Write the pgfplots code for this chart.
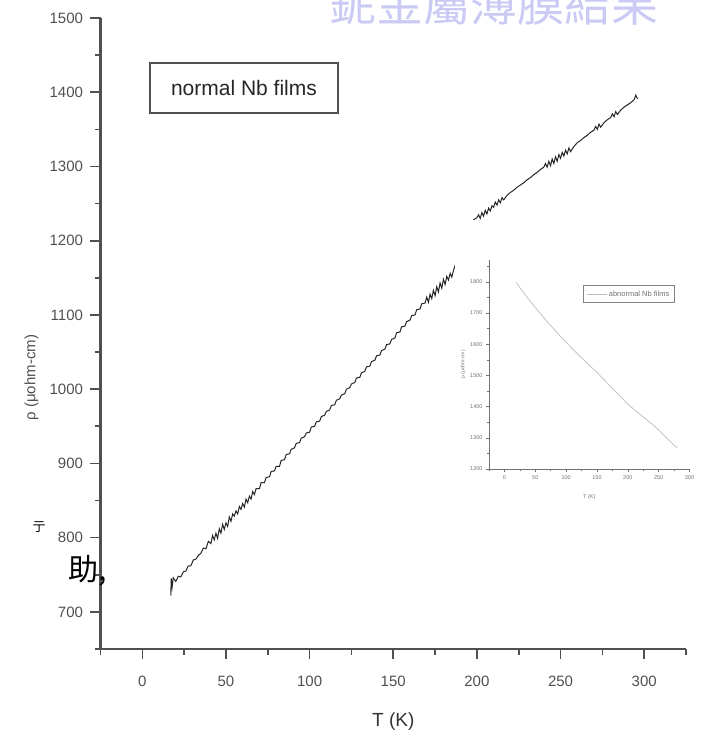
\documentclass[border=0pt]{standalone}
\usepackage{fontspec}
\setmainfont{Liberation Sans}
\newfontfamily\cjk{Noto Sans CJK TC}
\usepackage{pgfplots}
\pgfplotsset{compat=1.18}
\definecolor{axgray}{HTML}{505050}
\definecolor{lav}{HTML}{CACAF5}
\definecolor{insetgray}{HTML}{BDBDBD}
\begin{document}
\begin{tikzpicture}[x=1pt,y=1pt]
\begin{axis}[
  at={(100.5pt,94pt)}, anchor=south west, scale only axis,
  width=585.5pt, height=631pt,
  xmin=-25, xmax=325, ymin=650, ymax=1500,
  axis x line*=bottom, axis y line*=left,
  axis line style={line width=2.2pt, color=axgray},
  xtick={0,50,...,300}, minor xtick={-25,25,75,125,175,225,275,325},
  ytick={700,800,...,1500}, minor ytick={650,750,...,1450},
  tick align=outside, major tick length=10pt, minor tick length=6pt,
  tick style={line width=1.6pt, color=axgray},
  ticklabel style={font=\fontsize{15}{15}\selectfont, text=axgray},
  xticklabel style={yshift=-13pt},
  yticklabel style={xshift=-4pt},
  /pgf/number format/assume math mode=true,
  /pgf/number format/1000 sep={},
  xlabel={T (K)}, ylabel={ρ (μohm-cm)},
  every axis x label/.style={at={(rel axis cs:0.5,0)}, yshift=-73pt, anchor=center, font=\fontsize{19}{19}\selectfont, text=black!80},
  every axis y label/.style={at={(rel axis cs:0,0.43)}, xshift=-69pt, rotate=90, anchor=center, font=\fontsize{15}{15}\selectfont, text=axgray},
]
\addplot[black!85, line width=1.0pt] coordinates {
(17,722) (17.3,745) (17.8,733) (18.5,746) (20,741) (21.5,748) (23,747) (24.5,754) (26,755) (27.5,762)
(29,762) (30.5,770) (32,771) (33.5,776) (35,779) (36.5,786) (38,785) (39.5,795) (41,792) (42,803)
(43,797) (44,806) (45,799) (46,812) (47,806) (48,818) (49,811) (50,820) (51,815) (52,828)
(53,822) (54,832) (55,829) (56,836) (57,832) (58,842) (59,838) (60,846) (61,841) (62,852)
(63,847) (64,856) (65,852) (66,862) (67,858) (68,866) (70,866) (71,874) (73,874) (74,881)
(76,882) (77,889) (79,890) (80,896) (82,896) (83,904) (85,905) (86,912) (88,913) (89,919)
(91,921) (92,927) (94,928) (95,934) (97,936) (98,941) (100,942) (101,949) (103,950) (104,956)
(106,957) (107,963) (109,965) (110,970) (112,972) (113,978) (115,979) (116,985) (118,987) (119,992)
(121,994) (122,1000) (124,1002) (125,1007) (127,1009) (128,1015) (130,1016) (131,1022) (133,1024) (134,1030)
(136,1031) (137,1037) (139,1039) (140,1045) (142,1046) (143,1052) (145,1054) (146,1060) (148,1061) (149,1067)
(151,1069) (152,1076) (154,1077) (155,1084) (157,1085) (158,1091) (160,1093) (161,1099) (163,1100) (164,1107)
(166,1108) (167,1115) (169,1116) (170,1124) (171,1117) (172,1128) (173,1122) (174,1133) (175,1126) (176,1138)
(177,1131) (178,1143) (179,1136) (180,1148) (181,1141) (182,1152) (183,1147) (184,1156) (185,1151) (186,1160)
(189,1180) (192,1197) (195,1213) (198,1228) (200,1231) (201,1235) (202,1230) (203,1238) (204,1233) (205,1241)
(206,1236) (207,1244) (208,1240) (209,1247) (210,1245) (211,1252) (212,1248) (213,1255) (214,1251) (215,1258)
(216,1255) (218,1261) (220,1265) (222,1268) (224,1272) (226,1275) (228,1278) (230,1282) (232,1285) (234,1289)
(236,1292) (238,1296) (240,1299) (241,1304) (242,1299) (243,1307) (244,1301) (245,1310) (246,1304) (247,1313)
(248,1307) (249,1316) (250,1311) (251,1319) (252,1314) (253,1322) (254,1317) (255,1325) (256,1320) (258,1327)
(260,1332) (262,1335) (264,1339) (266,1342) (268,1346) (270,1349) (271,1354) (272,1350) (273,1357) (274,1353)
(276,1359) (278,1363) (280,1366) (281,1371) (282,1367) (283,1374) (284,1370) (286,1376) (288,1380) (290,1383)
(292,1386) (294,1390) (295,1396) (296,1391)
};
\end{axis}
\node[draw=axgray, line width=1.6pt, minimum width=188pt, minimum height=50pt,
      font=\fontsize{21}{21}\selectfont, text=black!85] at (244,655) {normal Nb films};
\fill[white] (455,233) rectangle (702,523);
\begin{axis}[
  at={(489pt,274pt)}, anchor=south west, scale only axis,
  width=200.5pt, height=209pt,
  xmin=-25, xmax=300, ymin=1200, ymax=1870,
  axis x line*=bottom, axis y line*=left,
  axis line style={line width=0.9pt, color=axgray!80},
  xtick={0,50,...,300}, minor xtick={-25,25,75,125,175,225,275},
  ytick={1200,1300,...,1800}, minor ytick={1250,1350,...,1850},
  tick align=outside, major tick length=3pt, minor tick length=1.8pt,
  tick style={line width=0.6pt, color=axgray!80},
  ticklabel style={font=\fontsize{5.5}{5.5}\selectfont, text=axgray!80},
  /pgf/number format/assume math mode=true,
  /pgf/number format/1000 sep={},
  xlabel={T (K)}, ylabel={ρ (μohm-cm)},
  every axis x label/.style={at={(rel axis cs:0.5,0)}, yshift=-28pt, anchor=center, font=\fontsize{5.5}{5.5}\selectfont, text=axgray!80},
  every axis y label/.style={at={(rel axis cs:0,0.5)}, xshift=-26pt, rotate=90, anchor=center, font=\fontsize{5}{5}\selectfont, text=axgray!80},
  legend style={at={(rel axis cs:0.697,0.837)}, anchor=center, draw=axgray!70, line width=0.8pt,
    font=\fontsize{7.5}{7.5}\selectfont, text=axgray!80, inner sep=3pt},
  legend image post style={line width=0.6pt},
  legend image code/.code={\draw[#1] (0pt,0pt) -- (20pt,0pt);},
  legend cell align=left,
]
\addplot[insetgray, line width=0.7pt] coordinates {
(19,1798) (30,1768) (40,1742) (50,1718) (60,1694) (70,1671) (80,1649) (90,1627) (100,1606) (110,1586)
(120,1566) (130,1547) (140,1528) (150,1510) (160,1489) (170,1469) (180,1448) (190,1428) (200,1408) (210,1391)
(220,1375) (230,1359) (240,1343) (250,1325) (260,1305) (270,1286) (280,1268)
};
\addlegendentry{abnormal Nb films}
\end{axis}
\node[anchor=base west, font=\cjk\fontsize{47}{47}\selectfont, text=lav] at (326,721) {鈮金屬薄膜結果};
\node[anchor=west, font=\cjk\fontsize{30}{30}\selectfont, inner sep=0pt] at (68,172) {助,};
\node[font=\cjk\fontsize{13}{13}\selectfont, inner sep=0pt] at (39,216) {亍};
\pgfresetboundingbox
\useasboundingbox (0,0) rectangle (702,743);
\end{tikzpicture}
\end{document}
